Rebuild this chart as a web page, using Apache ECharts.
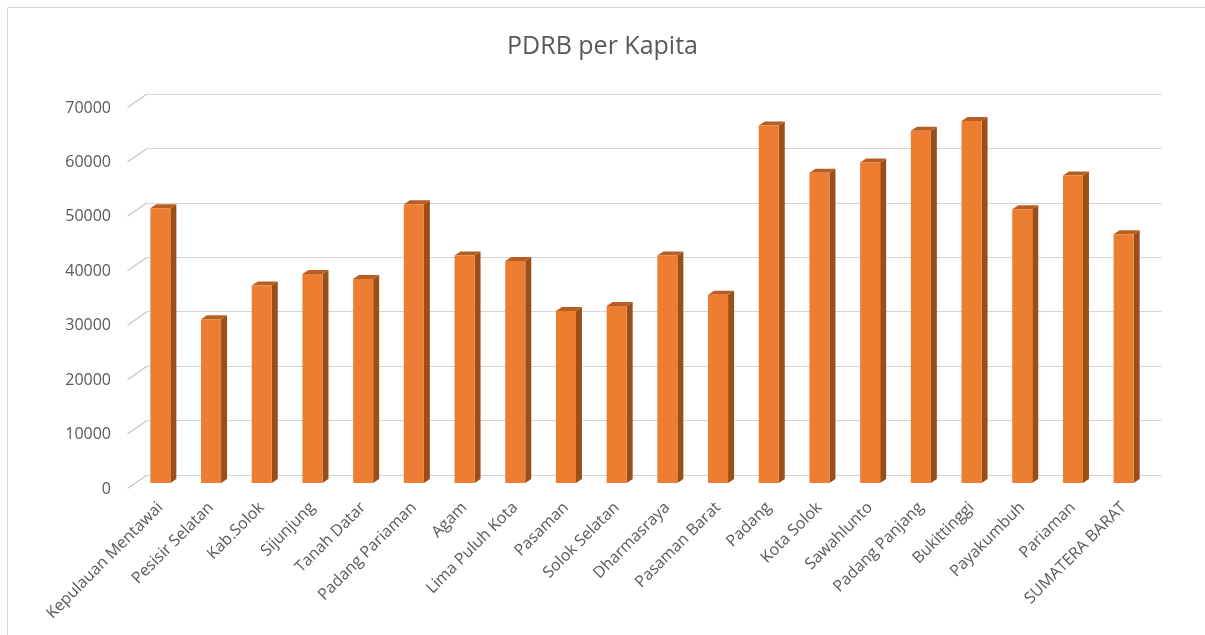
<!DOCTYPE html>
<html>
<head>
<meta charset="utf-8">
<title>PDRB per Kapita</title>
<script src="https://cdn.jsdelivr.net/npm/echarts@6/dist/echarts.min.js"></script>
<style>
  html, body { margin: 0; padding: 0; background: #ffffff; }
  #chart { width: 1205px; height: 635px; }
</style>
</head>
<body>
<div id="chart"></div>
<script>
// Regions of Sumatera Barat and their GRDP per capita
const categories = [
  'Kepulauan Mentawai', 'Pesisir Selatan', 'Kab.Solok', 'Sijunjung', 'Tanah Datar',
  'Padang Pariaman', 'Agam', 'Lima Puluh Kota', 'Pasaman', 'Solok Selatan',
  'Dharmasraya', 'Pasaman Barat', 'Padang', 'Kota Solok', 'Sawahlunto',
  'Padang Panjang', 'Bukittinggi', 'Payakumbuh', 'Pariaman', 'SUMATERA BARAT'
];
const pdrbPerKapita = [
  50500, 30100, 36300, 38400, 37500,
  51200, 41800, 40800, 31600, 32500,
  41800, 34600, 65700, 57000, 58900,
  64700, 66500, 50300, 56500, 45700
];
const yMax = 70000;
const yStep = 10000;
const yTicks = [0, 10000, 20000, 30000, 40000, 50000, 60000, 70000];

const FONT = "'Open Sans', 'Liberation Sans', sans-serif";
const TEXT = '#595959';
const GRID_LINE = '#d6d6d6';

// 3D column look: front face, darker side and top faces
const DEPTH_X = 6;
const DEPTH_Y = 4;
const FRONT = '#ED7D31';
const SIDE = '#9C4E19';
const TOP = '#B75E22';

// Offset of the front edge of the floor/wall relative to the back wall
const WALL_DX = 19.5;
const WALL_DY = 13.5;

function renderColumn(params, api) {
  const idx = api.value(0);
  const val = api.value(1);
  const top = api.coord([idx, val]);
  const base = api.coord([idx, 0]);
  const w = api.size([1, 0])[0] * 0.395;
  const x0 = top[0] - w / 2;
  const x1 = top[0] + w / 2;
  const yt = top[1];
  const yb = base[1];
  return {
    type: 'group',
    children: [
      {
        type: 'polygon',
        shape: { points: [[x1, yt], [x1 + DEPTH_X, yt - DEPTH_Y], [x1 + DEPTH_X, yb - DEPTH_Y], [x1, yb]] },
        style: { fill: SIDE }
      },
      {
        type: 'polygon',
        shape: { points: [[x0, yt], [x1, yt], [x1 + DEPTH_X, yt - DEPTH_Y], [x0 + DEPTH_X, yt - DEPTH_Y]] },
        style: { fill: TOP }
      },
      {
        type: 'rect',
        shape: { x: x0, y: yt, width: w, height: yb - yt },
        style: { fill: FRONT }
      }
    ]
  };
}

// Short slanted segment joining each back-wall gridline to the front edge
function renderWallEdge(params, api) {
  const p = api.coord([api.value(0), api.value(1)]);
  return {
    type: 'polyline',
    shape: { points: [[p[0] - WALL_DX, p[1] + WALL_DY], [p[0], p[1]]] },
    style: { stroke: '#c4c4c4', lineWidth: 1.2, fill: null }
  };
}

const chart = echarts.init(document.getElementById('chart'), null, { renderer: 'canvas' });

chart.setOption({
  animation: false,
  backgroundColor: '#ffffff',
  textStyle: { fontFamily: FONT },
  title: {
    text: 'PDRB per Kapita',
    left: 'center',
    top: 29,
    textStyle: { fontFamily: FONT, fontSize: 25, fontWeight: 'normal', color: TEXT }
  },
  graphic: [{
    type: 'rect',
    silent: true,
    shape: { x: 7.5, y: 7.5, width: 1400, height: 800 },
    style: { fill: 'none', stroke: GRID_LINE, lineWidth: 1 },
    z: -10
  }],
  grid: [
    // columns and category labels
    { left: 135, top: 102, width: 1014, height: 381 },
    // back wall with gridlines
    { left: 147, top: 94, width: 1015, height: 381 },
    // front edge carrying the value labels
    { left: 128, top: 108, width: 1015, height: 381 }
  ],
  xAxis: [
    {
      gridIndex: 0,
      type: 'category',
      data: categories,
      boundaryGap: true,
      axisLine: { show: false },
      axisTick: { show: false },
      axisLabel: {
        interval: 0,
        rotate: 45,
        margin: 22,
        fontFamily: FONT,
        fontSize: 16,
        color: TEXT
      }
    },
    { gridIndex: 1, type: 'value', min: 0, max: 1, show: false },
    { gridIndex: 2, type: 'value', min: 0, max: 1, show: false }
  ],
  yAxis: [
    { gridIndex: 0, type: 'value', min: 0, max: yMax, interval: yStep, show: false },
    {
      gridIndex: 1,
      type: 'value',
      min: 0,
      max: yMax,
      interval: yStep,
      axisLine: { show: false },
      axisTick: { show: false },
      axisLabel: { show: false },
      splitLine: { show: true, lineStyle: { color: GRID_LINE, width: 1 } }
    },
    {
      gridIndex: 2,
      type: 'value',
      min: 0,
      max: yMax,
      interval: yStep,
      axisLine: { show: false },
      axisTick: { show: false },
      splitLine: { show: false },
      axisLabel: {
        margin: 17,
        fontFamily: FONT,
        fontSize: 16,
        color: TEXT,
        formatter: v => String(v)
      }
    }
  ],
  series: [
    {
      type: 'custom',
      name: 'wall edges',
      coordinateSystem: 'cartesian2d',
      xAxisIndex: 1,
      yAxisIndex: 1,
      clip: false,
      silent: true,
      data: yTicks.map(v => [0, v]),
      encode: { x: 0, y: 1 },
      renderItem: renderWallEdge,
      z: 3
    },
    {
      type: 'custom',
      name: 'PDRB per Kapita',
      coordinateSystem: 'cartesian2d',
      xAxisIndex: 0,
      yAxisIndex: 0,
      clip: false,
      data: pdrbPerKapita.map((v, i) => [i, v]),
      encode: { x: 0, y: 1 },
      renderItem: renderColumn,
      z: 5
    }
  ]
});
</script>
</body>
</html>
